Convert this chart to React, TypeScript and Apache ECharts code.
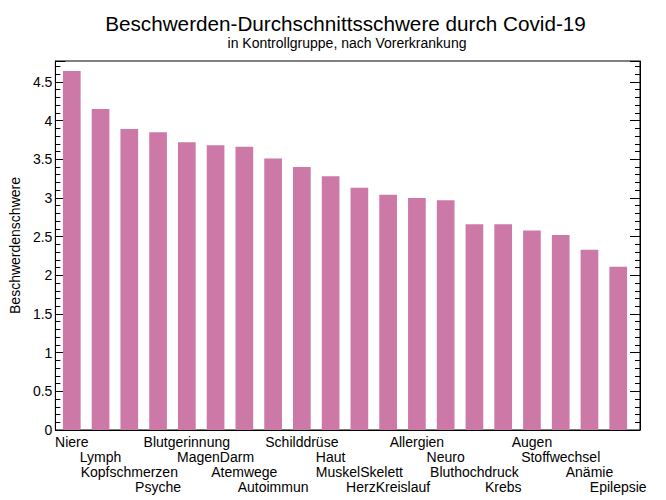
import React, { useEffect, useRef } from "react";
import * as echarts from "echarts";

const categories = [
  "Niere", "Lymph", "Kopfschmerzen", "Psyche", "Blutgerinnung", "MagenDarm",
  "Atemwege", "Autoimmun", "Schilddrüse", "Haut", "MuskelSkelett", "HerzKreislauf",
  "Allergien", "Neuro", "Bluthochdruck", "Krebs", "Augen", "Stoffwechsel",
  "Anämie", "Epilepsie",
];
const values = [
  4.64, 4.15, 3.89, 3.85, 3.72, 3.68, 3.66, 3.51, 3.40, 3.28, 3.13, 3.04,
  3.0, 2.97, 2.66, 2.66, 2.58, 2.52, 2.33, 2.11,
];
const titleText = "Beschwerden-Durchschnittsschwere durch Covid-19";
const subtitleText = "in Kontrollgruppe, nach Vorerkrankung";
const yAxisName = "Beschwerdenschwere";

const FONT = "'Liberation Sans', Arial, Helvetica, sans-serif";

export default function App() {
  const ref = useRef<HTMLDivElement>(null);
  useEffect(() => {
    const chart = echarts.init(ref.current!, null, { renderer: "svg" });
    const yMax = 4.77;
    const fmtY = (v: number) => {
      const r = Math.round(v * 2) / 2;
      if (Math.abs(r - v) > 1e-6) return "";
      return String(v);
    };
    const commonY = {
      type: "value",
      min: 0,
      max: yMax,
      interval: 0.5,
      gridIndex: 0,
      splitLine: { show: false },
      axisLine: { show: true, lineStyle: { color: "#000", width: 1 } },
      axisTick: { show: true, inside: true, length: 10, lineStyle: { color: "#000" } },
      minorTick: { show: true, splitNumber: 5, length: 5, lineStyle: { color: "#000" } },
    };
    chart.setOption({
      animation: false,
      graphic: [
        {
          type: "text",
          x: 345.5,
          y: 23,
          style: {
            text: titleText,
            fontFamily: FONT,
            fontSize: 20.7,
            fill: "#000",
            align: "center",
            verticalAlign: "middle",
          },
        },
        {
          type: "text",
          x: 347,
          y: 42.5,
          style: {
            text: subtitleText,
            fontFamily: FONT,
            fontSize: 14,
            fill: "#000",
            align: "center",
            verticalAlign: "middle",
          },
        },
      ],
      grid: [
        {
          left: 50,
          right: 26,
          top: 61,
          bottom: 70,
          show: true,
          borderColor: "#000",
          borderWidth: 1,
        },
        {
          left: 57.4,
          right: 33.4,
          top: 61,
          bottom: 70,
        },
      ],
      xAxis: [
        {
          type: "category",
          gridIndex: 0,
          data: categories,
          axisLine: { show: true, lineStyle: { color: "#000" } },
          axisTick: { show: false },
          axisLabel: { show: false },
        },
        {
          type: "category",
          gridIndex: 1,
          data: categories,
          axisLine: { show: false },
          axisTick: { show: false },
          axisLabel: {
            interval: 0,
            hideOverlap: false,
            margin: 4,
            fontFamily: FONT,
            fontSize: 14,
            lineHeight: 15,
            color: "#000",
            formatter: (v: string, i: number) => "\n".repeat(i % 4) + v,
          },
        },
      ],
      yAxis: [
        {
          ...commonY,
          position: "left",
          name: yAxisName,
          nameLocation: "middle",
          nameGap: 26,
          nameTextStyle: { fontFamily: FONT, fontSize: 14, color: "#000" },
          axisLabel: {
            show: true,
            margin: 3,
            fontFamily: FONT,
            fontSize: 14,
            color: "#000",
            showMaxLabel: false,
            formatter: fmtY,
          },
        },
        {
          ...commonY,
          position: "right",
          axisLabel: { show: false },
        },
        {
          type: "value",
          gridIndex: 1,
          min: 0,
          max: yMax,
          show: false,
          splitLine: { show: false },
        },
      ],
      series: [
        {
          type: "bar",
          xAxisIndex: 1,
          yAxisIndex: 2,
          data: values,
          barCategoryGap: "38.5%",
          itemStyle: { color: "#CC79A7" },
        },
      ],
    });
    return () => chart.dispose();
  }, []);
  return (
    <div
      ref={ref}
      style={{ position: "fixed", left: 0, top: 0, width: 666, height: 500, background: "#fff" }}
    />
  );
}
